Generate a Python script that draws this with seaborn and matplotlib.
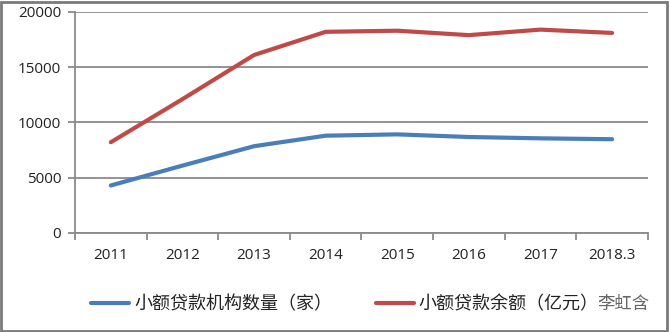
import matplotlib
matplotlib.use("Agg")
import matplotlib.pyplot as plt
import seaborn as sns
import pandas as pd
from matplotlib.patches import Rectangle
from matplotlib.ticker import FixedLocator, NullFormatter

categories = ["2011", "2012", "2013", "2014", "2015", "2016", "2017", "2018.3"]
institutions = [4282, 6080, 7839, 8791, 8910, 8673, 8551, 8471]
balance = [8200, 12100, 16100, 18200, 18300, 17900, 18400, 18100]
series_names = ["小额贷款机构数量（家）", "小额贷款余额（亿元）"]
y_ticks = [0, 5000, 10000, 15000, 20000]

sns.set_theme(style="white")
plt.rcParams['font.family'] = ['Noto Sans CJK SC', 'DejaVu Sans']

rows = []
for i, c in enumerate(categories):
    rows.append({"pos": i, "value": institutions[i], "series": series_names[0]})
    rows.append({"pos": i, "value": balance[i], "series": series_names[1]})
df = pd.DataFrame(rows)

fig = plt.figure(figsize=(6.7, 3.32), dpi=100)
ax = fig.add_axes([0.112, 0.299, 0.855, 0.665])

palette = {series_names[0]: "#4a7ebb", series_names[1]: "#be4b48"}
sns.lineplot(data=df, x="pos", y="value", hue="series", palette=palette,
             linewidth=3.0, ax=ax, legend=True)

grid_c = "#8a8a8a"
ax.set_xlim(-0.5, len(categories) - 0.5)
ax.set_ylim(0, 20000)
ax.set_yticks(y_ticks)
ax.set_yticklabels([str(v) for v in y_ticks])
ax.yaxis.grid(True, color=grid_c, linewidth=1.3)
ax.set_axisbelow(True)

ax.xaxis.set_major_locator(FixedLocator([i - 0.5 for i in range(len(categories) + 1)]))
ax.xaxis.set_major_formatter(NullFormatter())
ax.xaxis.set_minor_locator(FixedLocator(list(range(len(categories)))))
ax.set_xticklabels(categories, minor=True)
ax.tick_params(axis="x", which="major", length=5, width=1.3, color=grid_c, direction="out", bottom=True)
ax.tick_params(axis="x", which="minor", length=0, pad=11, labelsize=11, labelcolor="#222222")
ax.tick_params(axis="y", which="major", length=5, width=1.3, color=grid_c, direction="out", left=True,
               labelsize=11, labelcolor="#222222", pad=5)
for lab in ax.get_xticklabels(minor=True) + ax.get_yticklabels():
    lab.set_fontfamily(["Open Sans", "DejaVu Sans"])

for s in ["top", "right"]:
    ax.spines[s].set_visible(False)
for s in ["left", "bottom"]:
    ax.spines[s].set_color(grid_c)
    ax.spines[s].set_linewidth(1.3)
ax.set_xlabel("")
ax.set_ylabel("")

handles, labels = ax.get_legend_handles_labels()
ax.legend_.remove()
leg = fig.legend(handles, labels, loc="center", bbox_to_anchor=(0.515, 0.083), ncol=2,
                 frameon=False, fontsize=13, handlelength=2.1, handletextpad=0.28,
                 columnspacing=2.4)
for t in leg.get_texts():
    t.set_color("#222222")

fig.text(0.93, 0.083, "李虹含", fontsize=12.5, color="#666666", ha="center", va="center",
         bbox=dict(boxstyle="round,pad=0.3", fc="white", ec="none", alpha=0.85))

fig.patches.append(Rectangle((0.002, 0.004), 0.994, 0.99, transform=fig.transFigure,
                             fill=False, edgecolor="#7a7a7a", linewidth=2))

fig.savefig("out.png", dpi=100)
